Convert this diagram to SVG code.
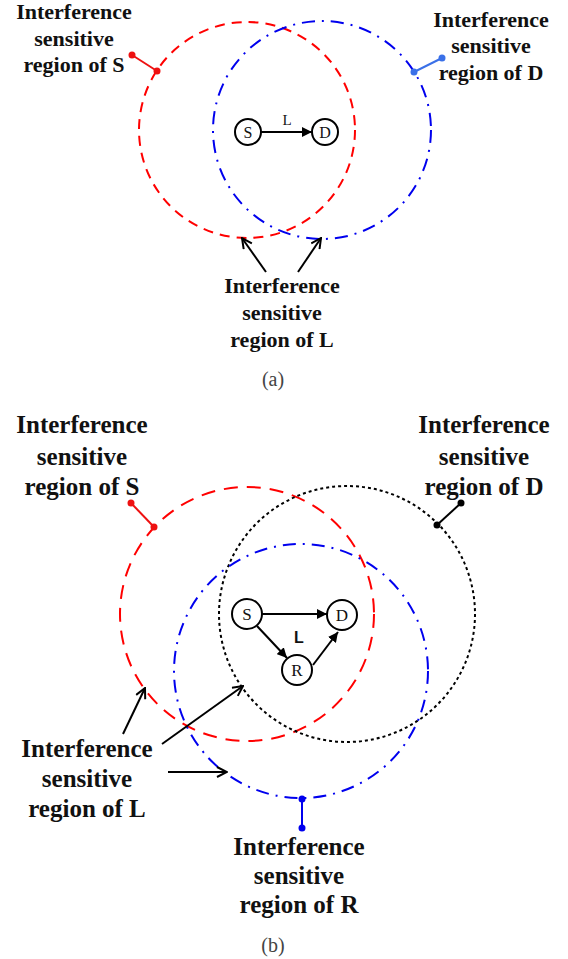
<svg xmlns="http://www.w3.org/2000/svg" width="568" height="959" viewBox="0 0 568 959">
<style>
.lbl{font-family:"Liberation Serif","Times New Roman",serif;font-weight:bold;fill:#111;text-anchor:middle}
.la{font-size:22px}
.lb{font-size:25px}
.node circle{fill:#fff;stroke:#000;stroke-width:2}
.node text{font-family:"Liberation Serif","Times New Roman",serif;text-anchor:middle;fill:#111}
.cap{font-family:"Liberation Serif","Times New Roman",serif;font-size:20px;fill:#444;text-anchor:middle}
.red{fill:none;stroke:#ff0000;stroke-width:2}
.blue{fill:none;stroke:#0000ee;stroke-width:2;stroke-dasharray:13 7 2 7}
.blk{fill:none;stroke:#000;stroke-width:2;stroke-dasharray:3 3}
.edge{stroke:#000;stroke-width:2;fill:none}
.ptr{stroke:#000;stroke-width:2;fill:none}
</style>
<defs>
<marker id="fill" viewBox="0 0 10 10" refX="10" refY="5" markerWidth="5" markerHeight="5" orient="auto" markerUnits="strokeWidth">
<path d="M0,0 L10,5 L0,10 z" fill="#000"/>
</marker>
<marker id="open" viewBox="0 0 12 12" refX="11" refY="6" markerWidth="6" markerHeight="6" orient="auto" markerUnits="strokeWidth">
<path d="M1,1 L11,6 L1,11" fill="none" stroke="#000" stroke-width="2"/>
</marker>
</defs>

<!-- Panel (a) regions -->
<g id="regions-a">
<circle id="regionS-a" class="red" cx="247" cy="130" r="108" stroke-dasharray="10 7"/>
<circle id="regionD-a" class="blue" cx="322" cy="130" r="109"/>
</g>

<g id="connectors-a">
<line class="edge" x1="261" y1="132" x2="312" y2="132" marker-end="url(#fill)"/>
<line class="ptr" x1="266" y1="272" x2="242" y2="238" marker-end="url(#open)"/>
<line class="ptr" x1="298" y1="272" x2="321" y2="238" marker-end="url(#open)"/>
<g id="leaderS-a" stroke="#ee1111" fill="#ee1111">
<line x1="132" y1="55" x2="157" y2="71" stroke-width="2"/>
<circle cx="132" cy="55" r="3.5" stroke="none"/>
<circle cx="157" cy="71" r="3.5" stroke="none"/>
</g>
<g id="leaderD-a" stroke="#3a70e8" fill="#3a70e8">
<line x1="414" y1="72" x2="442" y2="58" stroke-width="2"/>
<circle cx="414" cy="72" r="3.5" stroke="none"/>
<circle cx="442" cy="58" r="3.5" stroke="none"/>
</g>
</g>

<g id="nodeS-a" class="node"><circle cx="248" cy="132" r="13"/><text x="248" y="138" font-size="16">S</text></g>
<g id="nodeD-a" class="node"><circle cx="325" cy="132" r="13"/><text x="325" y="138" font-size="16">D</text></g>
<text x="287" y="125" font-family="Liberation Serif, serif" font-size="15" text-anchor="middle" fill="#111">L</text>

<g id="labelS-a"><text class="lbl la" x="74" y="19">Interference</text><text class="lbl la" x="74" y="46">sensitive</text><text class="lbl la" x="74" y="72">region of S</text></g>
<g id="labelD-a"><text class="lbl la" x="491" y="27">Interference</text><text class="lbl la" x="491" y="53">sensitive</text><text class="lbl la" x="491" y="80">region of D</text></g>
<g id="labelL-a"><text class="lbl la" x="282" y="293">Interference</text><text class="lbl la" x="282" y="320">sensitive</text><text class="lbl la" x="282" y="347">region of L</text></g>
<text class="cap" x="273" y="386">(a)</text>

<!-- Panel (b) regions -->
<g id="regions-b">
<circle id="regionS-b" class="red" cx="247" cy="614" r="127" stroke-dasharray="14 9"/>
<circle id="regionD-b" class="blk" cx="347" cy="614" r="128"/>
<circle id="regionR-b" class="blue" cx="301" cy="671" r="127"/>
</g>

<g id="connectors-b">
<line class="edge" x1="262" y1="614" x2="327" y2="614" marker-end="url(#fill)"/>
<line class="edge" x1="257" y1="626" x2="287" y2="658" marker-end="url(#fill)"/>
<line class="edge" x1="313" y1="665" x2="338" y2="632" marker-end="url(#fill)"/>
<line class="ptr" x1="123" y1="734" x2="145" y2="688" marker-end="url(#open)"/>
<line class="ptr" x1="162" y1="744" x2="243" y2="686" marker-end="url(#open)"/>
<line class="ptr" x1="168" y1="772" x2="227" y2="772" marker-end="url(#open)"/>
<g id="leaderS-b" stroke="#ee1111" fill="#ee1111">
<line x1="131" y1="503" x2="154" y2="527" stroke-width="2"/>
<circle cx="131" cy="503" r="3.5" stroke="none"/>
<circle cx="154" cy="527" r="3.5" stroke="none"/>
</g>
<g id="leaderD-b" stroke="#000" fill="#000">
<line x1="437" y1="525" x2="461" y2="503" stroke-width="2"/>
<circle cx="437" cy="525" r="3.5" stroke="none"/>
<circle cx="461" cy="503" r="3.5" stroke="none"/>
</g>
<g id="leaderR-b" stroke="#0000ee" fill="#0000ee">
<line x1="302" y1="799" x2="302" y2="828" stroke-width="2"/>
<circle cx="302" cy="799" r="3.5" stroke="none"/>
<circle cx="302" cy="828" r="3.5" stroke="none"/>
</g>
</g>

<g id="nodeS-b" class="node"><circle cx="247" cy="614" r="15"/><text x="247" y="620" font-size="17">S</text></g>
<g id="nodeD-b" class="node"><circle cx="342" cy="615" r="15"/><text x="342" y="621" font-size="17">D</text></g>
<g id="nodeR-b" class="node"><circle cx="297" cy="670" r="15"/><text x="297" y="676" font-size="17">R</text></g>
<text x="299" y="643" font-family="Liberation Sans, Arial, sans-serif" font-weight="bold" font-size="16" text-anchor="middle" fill="#111">L</text>

<g id="labelS-b"><text class="lbl lb" x="82" y="433">Interference</text><text class="lbl lb" x="82" y="465">sensitive</text><text class="lbl lb" x="82" y="495">region of S</text></g>
<g id="labelD-b"><text class="lbl lb" x="484" y="433">Interference</text><text class="lbl lb" x="484" y="465">sensitive</text><text class="lbl lb" x="484" y="495">region of D</text></g>
<g id="labelL-b"><text class="lbl lb" x="87" y="757">Interference</text><text class="lbl lb" x="87" y="787">sensitive</text><text class="lbl lb" x="87" y="817">region of L</text></g>
<g id="labelR-b"><text class="lbl lb" x="299" y="855">Interference</text><text class="lbl lb" x="299" y="884">sensitive</text><text class="lbl lb" x="299" y="913">region of R</text></g>
<text class="cap" x="273" y="952">(b)</text>
</svg>
